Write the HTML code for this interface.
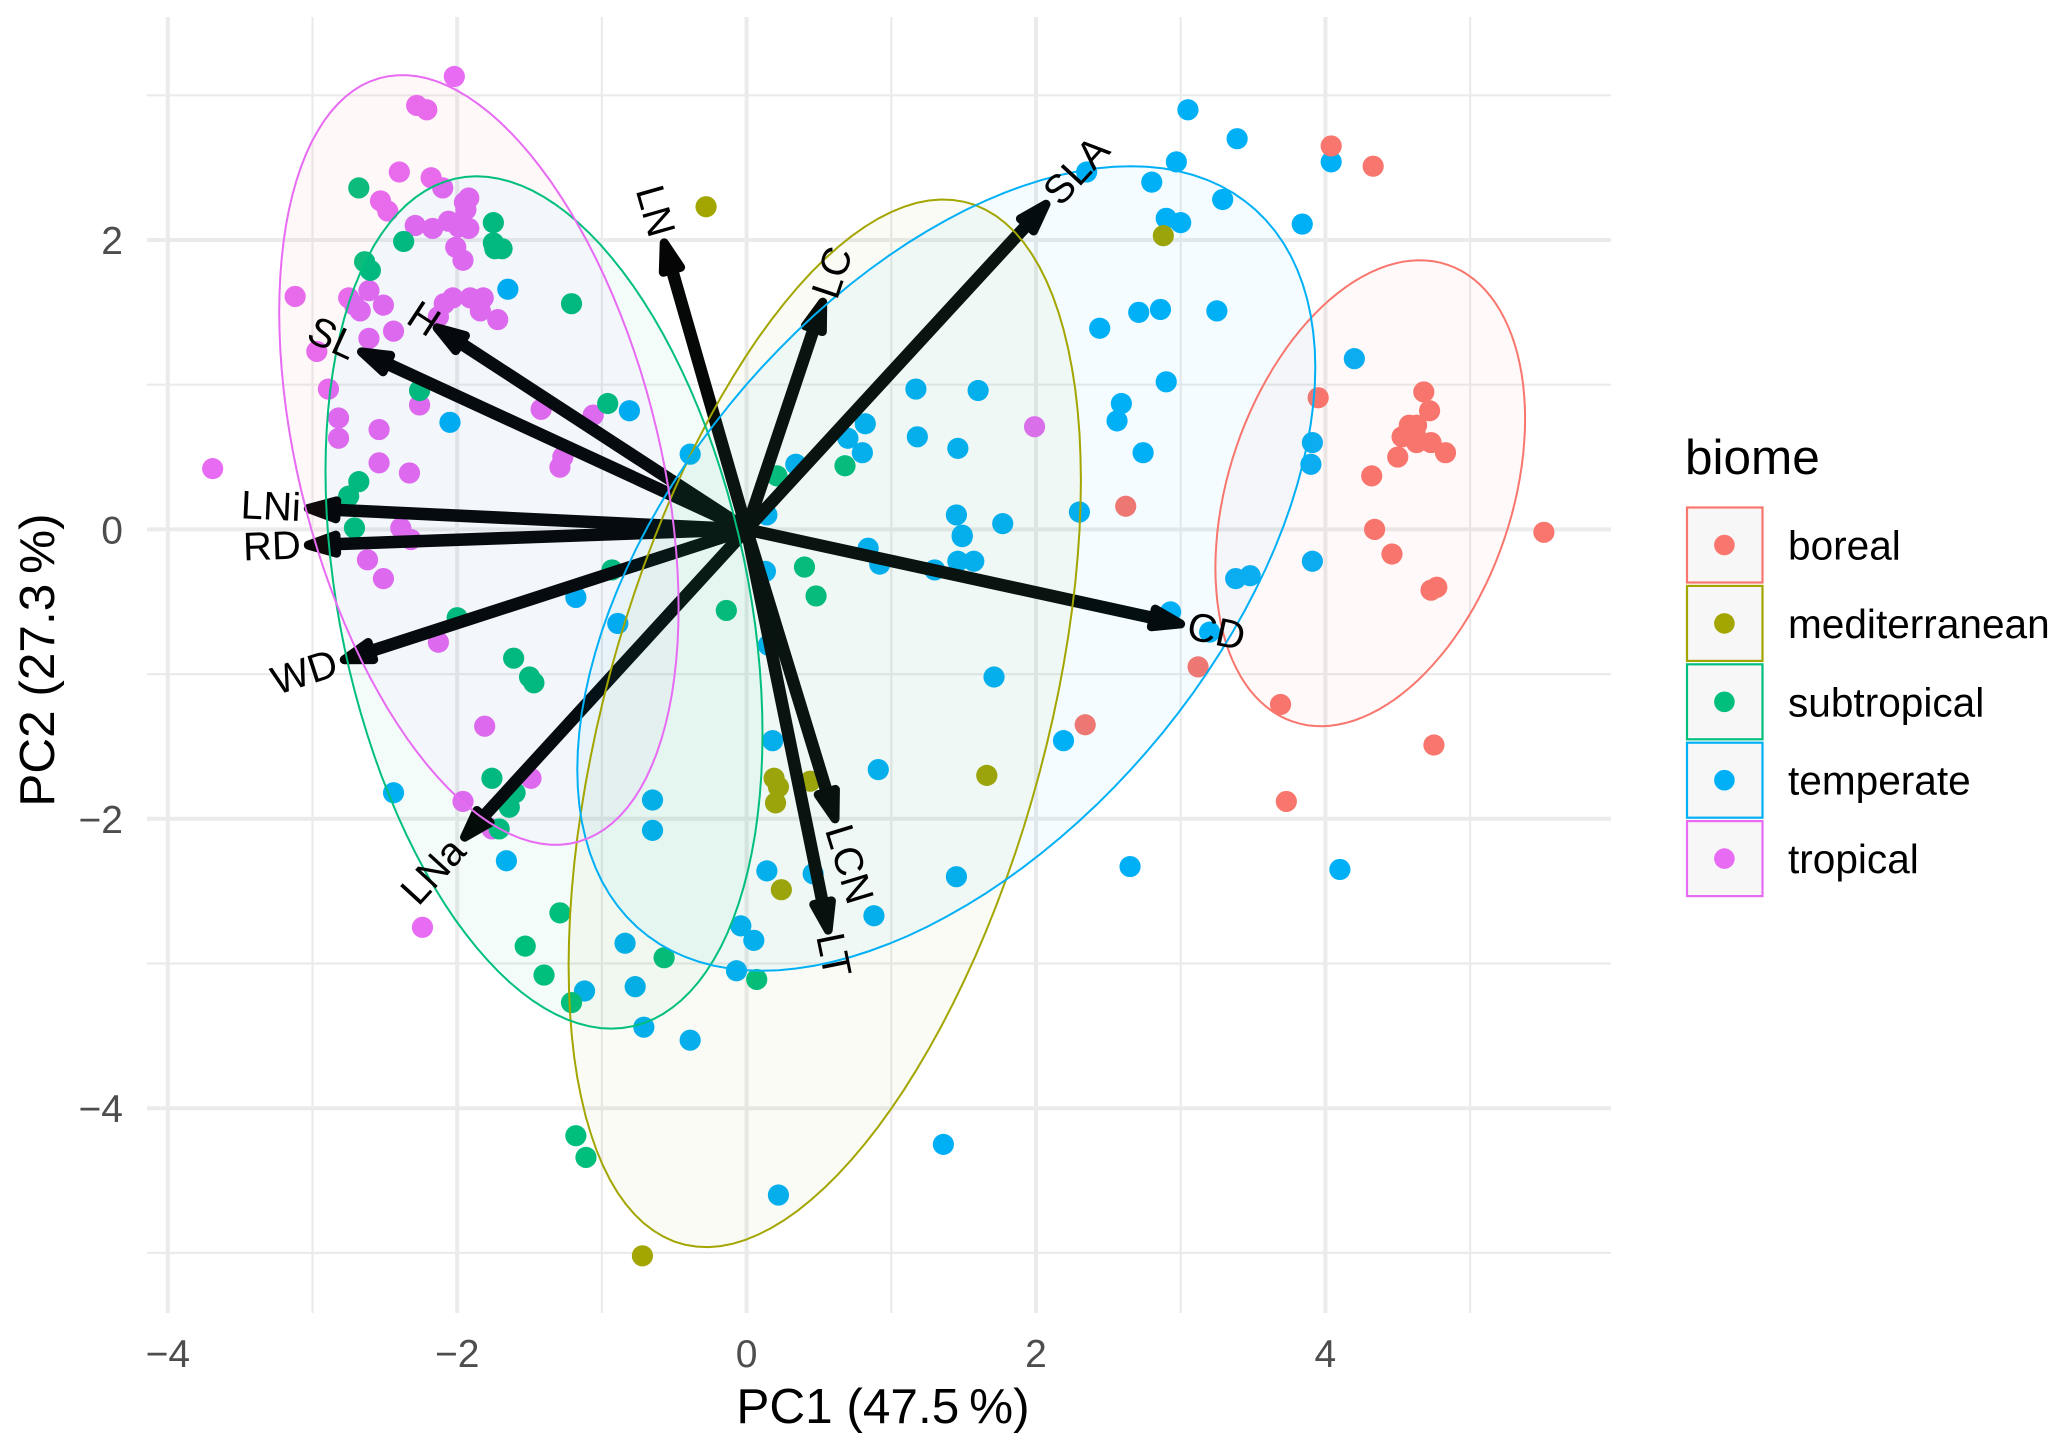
<!DOCTYPE html>
<html>
<head>
<meta charset="utf-8">
<title>PCA biplot by biome</title>
<style>
  html, body { margin: 0; padding: 0; background: #ffffff; }
  svg { display: block; font-family: "Liberation Sans", Arial, sans-serif; }
</style>
</head>
<body>
<svg id="chart" width="2067" height="1451" viewBox="0 0 2067 1451" xmlns="http://www.w3.org/2000/svg"></svg>
<script>
const biomes = ['boreal', 'mediterranean', 'subtropical', 'temperate', 'tropical'];

const borealPC1 = [4.04, 4.33, 3.95, 4.68, 4.72, 4.58, 4.63, 4.53, 4.62, 4.63, 4.73, 4.83, 4.50, 4.32, 2.62, 4.34, 5.51, 4.46, 4.77, 4.73, 3.12, 3.69, 2.34, 4.75, 3.73];
const borealPC2 = [2.65, 2.51, 0.91, 0.95, 0.82, 0.72, 0.72, 0.64, 0.66, 0.60, 0.60, 0.53, 0.50, 0.37, 0.16, 0.00, -0.02, -0.17, -0.40, -0.42, -0.95, -1.21, -1.35, -1.49, -1.88];

const mediterraneanPC1 = [-0.28, 2.88, 0.19, 0.22, 0.20, 0.24, -0.72, 0.44, 1.66];
const mediterraneanPC2 = [2.23, 2.03, -1.72, -1.78, -1.89, -2.49, -5.02, -1.74, -1.70];

const subtropicalPC1 = [-2.68, -2.37, -1.75, -1.75, -1.74, -1.69, -2.64, -2.60, -1.21, -2.26, -0.96, -2.68, -2.75, -2.71, -0.93, -2.00, -1.61, -1.50, -1.47, -0.14, 0.21, 0.68, 0.40, 0.48, -1.76, -1.60, -1.64, -1.71, -1.29, -1.53, -1.40, -1.21, -0.57, 0.07, -1.18, -1.11];
const subtropicalPC2 = [2.36, 1.99, 2.12, 1.98, 1.94, 1.94, 1.85, 1.79, 1.56, 0.96, 0.87, 0.33, 0.23, 0.01, -0.28, -0.61, -0.89, -1.02, -1.06, -0.56, 0.37, 0.44, -0.26, -0.46, -1.72, -1.82, -1.92, -2.07, -2.65, -2.88, -3.08, -3.27, -2.96, -3.11, -4.19, -4.34];

const temperatePC1 = [3.05, 3.39, 2.97, 4.04, 2.80, 2.35, 3.29, 2.90, 3.00, 3.84, 2.71, 2.86, 2.44, 3.25, 4.20, 2.90, 1.60, 1.17, 2.59, 2.56, 0.82, 0.70, 0.80, 1.18, 1.46, 2.74, 3.91, 3.90, 2.30, 1.45, 1.77, 1.49, 1.49, 0.84, 0.92, 1.30, 1.46, 1.57, 3.38, 3.48, 3.91, 2.93, 3.20, 1.71, -1.65, -2.05, -0.81, -0.39, -1.18, -0.89, 0.13, 0.14, 0.34, 0.15, -2.44, -0.65, -0.65, -1.66, 0.14, 0.18, -0.04, 0.05, -0.84, -0.07, -0.77, -1.12, -0.71, -0.39, 0.22, 0.91, 2.19, 0.46, 1.45, 2.65, 4.10, 0.88, 1.36];
const temperatePC2 = [2.90, 2.70, 2.54, 2.54, 2.40, 2.47, 2.28, 2.15, 2.12, 2.11, 1.50, 1.52, 1.39, 1.51, 1.18, 1.02, 0.96, 0.97, 0.87, 0.75, 0.73, 0.63, 0.53, 0.64, 0.56, 0.53, 0.60, 0.45, 0.12, 0.10, 0.04, -0.04, -0.05, -0.13, -0.24, -0.28, -0.22, -0.22, -0.34, -0.32, -0.22, -0.57, -0.71, -1.02, 1.66, 0.74, 0.82, 0.52, -0.47, -0.65, -0.29, 0.10, 0.45, -0.80, -1.82, -1.87, -2.08, -2.29, -2.36, -1.46, -2.74, -2.84, -2.86, -3.05, -3.16, -3.19, -3.44, -3.53, -4.60, -1.66, -1.46, -2.38, -2.40, -2.33, -2.35, -2.67, -4.25];

const tropicalPC1 = [-2.02, -2.28, -2.21, -2.40, -2.18, -2.10, -1.92, -1.95, -2.53, -2.48, -1.94, -2.29, -2.17, -2.06, -1.97, -1.92, -1.99, -2.01, -1.96, -3.12, -2.75, -2.67, -2.71, -2.61, -2.51, -2.44, -2.61, -2.97, -2.13, -2.09, -2.03, -1.91, -1.82, -1.84, -1.72, -2.89, -2.26, -1.42, -1.06, -2.82, -2.82, -2.54, -1.27, -1.29, -2.54, -2.33, -3.69, -2.39, -2.32, -2.62, -2.51, -2.13, -1.81, -1.49, -1.96, -1.76, -2.24, 1.99];
const tropicalPC2 = [3.13, 2.93, 2.90, 2.47, 2.43, 2.36, 2.29, 2.26, 2.27, 2.20, 2.21, 2.10, 2.08, 2.13, 2.13, 2.08, 2.09, 1.95, 1.86, 1.61, 1.60, 1.51, 1.55, 1.65, 1.55, 1.37, 1.32, 1.23, 1.47, 1.56, 1.60, 1.60, 1.60, 1.51, 1.45, 0.97, 0.86, 0.83, 0.79, 0.77, 0.63, 0.69, 0.50, 0.43, 0.46, 0.39, 0.42, 0.01, -0.07, -0.21, -0.34, -0.78, -1.36, -1.72, -1.88, -2.07, -2.75, 0.71];

const ellipseCenterPC1 = [4.31, 0.54, -1.40, 1.38, -1.85];
const ellipseCenterPC2 = [0.25, -1.34, -0.505, -0.27, 0.48];
const ellipseRadiusPC1 = [1.07, 1.77, 1.51, 2.55, 1.38];
const ellipseRadiusPC2 = [1.61, 3.62, 2.945, 2.78, 2.66];
const ellipseCorrelation = [0.32, 0.463, -0.308, 0.50, -0.384];

const loadingNames = ['LN', 'SLA', 'LC', 'H', 'SL', 'LNi', 'RD', 'WD', 'LNa', 'LCN', 'LT', 'CD'];
const loadingPC1 = [-0.578, 2.09, 0.536, -2.165, -2.69, -3.06, -3.06, -2.81, -1.97, 0.62, 0.57, 3.03];
const loadingPC2 = [2.01, 2.27, 1.60, 1.41, 1.24, 0.146, -0.11, -0.91, -2.15, -2.03, -2.80, -0.66];

const xMajorTicks = [-4, -2, 0, 2, 4];
const xMinorTicks = [-3, -1, 1, 3, 5];
const yMajorTicks = [-4, -2, 0, 2];
const yMinorTicks = [-5, -3, -1, 1, 3];

const seriesPC1 = [borealPC1, mediterraneanPC1, subtropicalPC1, temperatePC1, tropicalPC1];
const seriesPC2 = [borealPC2, mediterraneanPC2, subtropicalPC2, temperatePC2, tropicalPC2];

const colors = ['#F8766D', '#A3A500', '#00BF7D', '#00B0F6', '#E76BF3'];
const ellipseFills = ['#F8766D', '#A3A500', '#00BF7D', '#00B0F6', '#F8766D'];
const ellipseFillOpacity = [0.045, 0.04, 0.045, 0.045, 0.05];
const pointDrawOrder = [4, 3, 2, 1, 0];
const labelGapExceptions = { H: -3, LT: -1, LC: 1, WD: 4, LNa: 5 };
const UNIT = 144.7, X0 = 746.6, Y0 = 529.4;
const PANEL = { left: 147, right: 1611, top: 17, bottom: 1313 };
const NS = 'http://www.w3.org/2000/svg';
const svg = document.getElementById('chart');

function xScale(v) { return X0 + UNIT * v; }
function yScale(v) { return Y0 - UNIT * v; }
function make(tag, attrs, parent, text) {
  const el = document.createElementNS(NS, tag);
  for (const k in attrs) el.setAttribute(k, attrs[k]);
  if (text !== undefined) el.textContent = text;
  parent.appendChild(el);
  return el;
}
function group(parent) { return make('g', {}, parent); }
function tickText(v) { return (v < 0 ? '\u2212' : '') + Math.abs(v); }
function ellipsePath(s) {
  const rho = ellipseCorrelation[s], q = Math.sqrt(1 - rho * rho);
  let d = '';
  for (let k = 0; k < 120; k++) {
    const t = k / 120 * 2 * Math.PI;
    const x = ellipseCenterPC1[s] + ellipseRadiusPC1[s] * Math.cos(t);
    const y = ellipseCenterPC2[s] + ellipseRadiusPC2[s] * (rho * Math.cos(t) + q * Math.sin(t));
    d += (k ? 'L' : 'M') + xScale(x).toFixed(1) + ' ' + yScale(y).toFixed(1);
  }
  return d + 'Z';
}

/* grid */
const grid = group(svg);


xMinorTicks.forEach(v => {
  const l = make('line', { x1: xScale(v), x2: xScale(v), y1: PANEL.top, y2: PANEL.bottom, stroke: '#ebebeb', 'stroke-width': 2.2 }, grid);
  
  
});
yMinorTicks.forEach(v => {
  const l = make('line', { x1: PANEL.left, x2: PANEL.right, y1: yScale(v), y2: yScale(v), stroke: '#ebebeb', 'stroke-width': 2.2 }, grid);
  
  
});
xMajorTicks.forEach(v => {
  const l = make('line', { x1: xScale(v), x2: xScale(v), y1: PANEL.top, y2: PANEL.bottom, stroke: '#ebebeb', 'stroke-width': 4 }, grid);
  
  
});
yMajorTicks.forEach(v => {
  const l = make('line', { x1: PANEL.left, x2: PANEL.right, y1: yScale(v), y2: yScale(v), stroke: '#ebebeb', 'stroke-width': 4 }, grid);
  
  
});

/* points */
const pointsLayer = group(svg);


pointDrawOrder.forEach(s => {
  const g = group(pointsLayer);
  
  
  seriesPC1[s].forEach((x, i) => {
    const c = make('circle', { cx: xScale(x), cy: yScale(seriesPC2[s][i]), r: 10.6, fill: colors[s] }, g);
    
    
  });
});

/* loading arrows */
const arrowsLayer = group(svg);


loadingNames.forEach((name, i) => {
  const tx = xScale(loadingPC1[i]), ty = yScale(loadingPC2[i]);
  const dx = tx - X0, dy = ty - Y0, len = Math.hypot(dx, dy);
  const ux = dx / len, uy = dy / len, nx = -uy, ny = ux;
  const px = tx - 4.5 * ux, py = ty - 4.5 * uy;
  const bx = px - 28 * ux, by = py - 28 * uy;
  const g = group(arrowsLayer);
  
  
  make('line', { x1: X0, y1: Y0, x2: bx, y2: by, stroke: '#050807', 'stroke-width': 12.5 }, g);
  make('polygon', {
    points: [[px, py], [bx + 9 * nx, by + 9 * ny], [bx - 9 * nx, by - 9 * ny]].map(p => p.join(',')).join(' '),
    fill: '#050505', stroke: '#050505', 'stroke-width': 9, 'stroke-linejoin': 'round'
  }, g);
});

/* ellipses (drawn above the arrows, as in the reference) */
const SUB = biomes.indexOf('subtropical'), TROP = biomes.indexOf('tropical');
const defs = make('defs', {}, svg);
function exclusionMask(id, s) {
  const m = make('mask', { id: id, maskUnits: 'userSpaceOnUse', x: 0, y: 0, width: 2067, height: 1451 }, defs);
  make('rect', { x: 0, y: 0, width: 2067, height: 1451, fill: '#fff' }, m);
  make('path', { d: ellipsePath(s), fill: '#000' }, m);
}
exclusionMask('not-subtropical', SUB);
exclusionMask('not-tropical', TROP);
const clipSub = make('clipPath', { id: 'clip-subtropical' }, defs);
make('path', { d: ellipsePath(SUB) }, clipSub);

const ellipsesLayer = group(svg);


biomes.forEach((b, s) => {
  const attrs = { d: ellipsePath(s), fill: ellipseFills[s], 'fill-opacity': ellipseFillOpacity[s], stroke: 'none' };
  if (s === SUB) attrs.mask = 'url(#not-tropical)';
  if (s === TROP) attrs.mask = 'url(#not-subtropical)';
  const f = make('path', attrs, ellipsesLayer);
  
  
});
const overlap = make('path', { d: ellipsePath(TROP), fill: '#0f4b9b', 'fill-opacity': 0.05, stroke: 'none', 'clip-path': 'url(#clip-subtropical)' }, ellipsesLayer);


biomes.forEach((b, s) => {
  const e = make('path', { d: ellipsePath(s), fill: 'none', stroke: colors[s], 'stroke-width': 2 }, ellipsesLayer);
  
  
});

/* loading labels */
const labelsLayer = group(svg);


loadingNames.forEach((name, i) => {
  const tx = xScale(loadingPC1[i]), ty = yScale(loadingPC2[i]);
  const dx = tx - X0, dy = ty - Y0, len = Math.hypot(dx, dy);
  const gap = name in labelGapExceptions ? labelGapExceptions[name] : 3;
  const lx = tx + gap * dx / len, ly = ty + gap * dy / len;
  const angle = -Math.atan(loadingPC2[i] / loadingPC1[i]) * 180 / Math.PI;
  const t = make('text', {
    transform: 'translate(' + lx.toFixed(1) + ' ' + ly.toFixed(1) + ') rotate(' + angle.toFixed(1) + ')',
    'text-anchor': loadingPC1[i] >= 0 ? 'start' : 'end',
    'dominant-baseline': 'central',
    'font-size': 40, fill: '#000000'
  }, labelsLayer, name);
  
  
});

/* axis tick labels */
const xLabels = group(svg);


xMajorTicks.forEach(v => {
  const t = make('text', { x: xScale(v), y: 1367, 'text-anchor': 'middle', 'font-size': 39, fill: '#4d4d4d' }, xLabels, tickText(v));
  
  
});
const yLabels = group(svg);


yMajorTicks.forEach(v => {
  const t = make('text', { x: 123, y: yScale(v) + 14, 'text-anchor': 'end', 'font-size': 39, fill: '#4d4d4d' }, yLabels, tickText(v));
  
  
});

/* legend */
const legend = group(svg);


const legendTitle = make('text', { x: 1685, y: 474, 'font-size': 49.5, fill: '#000' }, legend, 'biome');


biomes.forEach((b, s) => {
  const top = 507.5 + 78.4 * s;
  const g = group(legend);
  
  
  make('rect', { x: 1687, y: top, width: 75.5, height: 75, fill: '#f7f7f7', stroke: colors[s], 'stroke-width': 2.2 }, g);
  make('circle', { cx: 1724.4, cy: top + 37.5, r: 10.3, fill: colors[s] }, g);
  make('text', { x: 1788, y: top + 52, 'font-size': 40.6, fill: '#000' }, g, b);
});
</script>
<div style="position:absolute;left:0;top:0;width:2067px;height:1451px;pointer-events:none;font-family:'Liberation Sans',Arial,sans-serif;">
  <div style="position:absolute;left:583px;top:1378px;width:600px;text-align:center;font-size:49.5px;line-height:58px;color:#000;">PC1 (47.5&#8201;%)</div>
  <div style="position:absolute;left:-262px;top:631px;width:600px;text-align:center;font-size:49.5px;line-height:58px;color:#000;transform:rotate(-90deg);">PC2 (27.3&#8201;%)</div>
</div>
</body>
</html>
